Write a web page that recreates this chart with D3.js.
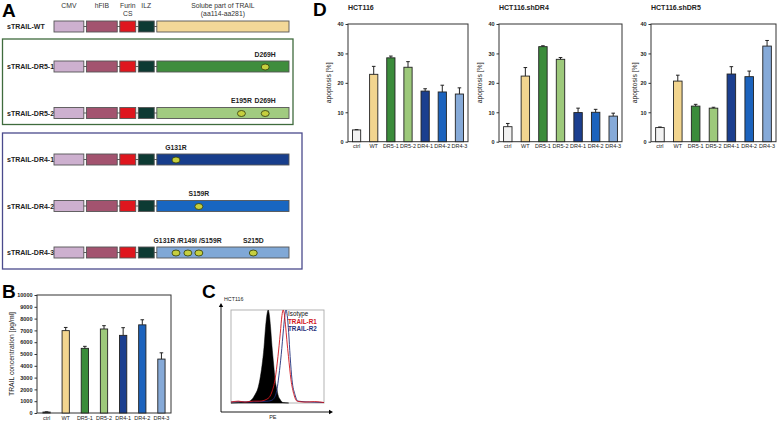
<!DOCTYPE html>
<html><head><meta charset="utf-8">
<script src="https://cdn.jsdelivr.net/npm/d3@7"></script>
<style>body{margin:0;background:#fff} svg{display:block} text{font-family:"Liberation Sans",Arial,sans-serif}</style>
</head><body><svg id="c" width="778" height="422"></svg>
<script>
// ---------- DATA ----------
// Panel A
const constructs = ["sTRAIL-WT","sTRAIL-DR5-1","sTRAIL-DR5-2","sTRAIL-DR4-1","sTRAIL-DR4-2","sTRAIL-DR4-3"];
const constructColors = ["#f3d898","#3f8d3d","#a1cb80","#183e8c","#1866c1","#80a8d6"];
const domainNames = [["CMV"],["hFIB"],["Furin","CS"],["ILZ"],["Solube part of TRAIL","(aa114-aa281)"]];
const domainLengths = [30,31,16,16,133];
const domainColors = ["#cdb0cf","#a3536f","#df161e","#0d3a33",null];
const mutationSites = [[],[269],[195,269],[131],[159],[131,149,159,215]];
const mutationLabels = [[],[["D269H",[269]]],[["E195R",[195]],["D269H",[269]]],[["G131R",[131]]],[["S159R",[159]]],[["G131R /R149I /S159R",[131,149,159]],["S215D",[215]]]];
const constructGroups = [{name:"DR5", rows:[1,2], color:"#3f6b3d"},{name:"DR4", rows:[3,4,5], color:"#4a4a8c"}];

// Panel B
const bCategories = ["ctrl","WT","DR5-1","DR5-2","DR4-1","DR4-2","DR4-3"];
const barColors = ["#f2f2f2","#f2d58f","#3b8c3b","#9dc97b","#1b3f8f","#1c63bd","#86aad8"];
const trailConc = [80,6980,5480,7120,6580,7470,4570];
const trailConcErr = [20,270,170,280,650,430,530];
const trailTicks = [0,1000,2000,3000,4000,5000,6000,7000,8000,9000,10000];

// Panel C (flow histogram, PE channel vs. % of max)
const isotypeX = [0,8,17,22.6,25.8,29,31,33.3,35.5,37.2,38.8,40,41.2,42.5,44,46,47.3,49.5,50.5,52.7,56,62];
const isotypeY = [0,0.5,1,4,9,16,25,40,60,82,96,100,95,82,62,40,26,14,9,4,0.5,0];
const r1X = [0,8,15,24,31,40,44,47.3,50.5,53,54.8,56,57.3,58.6,60,61.8,64.5,67.7,71,79.6,90,100];
const r1Y = [1,2,1,2,2,5,12,25,50,75,94,100,96,84,68,50,25,9,2,1,1.5,0.5];
const r2X = [0,10,20,31,40,44,48.4,51.6,54,56.5,58,59.2,60.5,62,63.6,65.6,68.8,72,85,100];
const r2Y = [1,1.5,1,1.5,2,3,10,30,52,80,95,100,94,76,50,25,9,2,1,0.5];
const histLegend = ["Isotype","TRAIL-R1","TRAIL-R2"];
const histColors = ["#111","#d2141c","#1f2f7a"];

// Panel D
const apopTitles = ["HCT116","HCT116.shDR4","HCT116.shDR5"];
const apopHCT116 = [4.0,22.9,28.5,25.3,17.2,16.9,16.2];
const apopHCT116Err = [0.1,2.7,0.6,1.9,0.8,2.3,2.1];
const apopShDR4 = [5.1,22.3,32.3,28.0,9.9,10.0,8.7];
const apopShDR4Err = [1.1,2.9,0.3,0.6,1.5,1.0,1.0];
const apopShDR5 = [4.8,20.6,12.1,11.4,23.0,22.1,32.5];
const apopShDR5Err = [0.2,2.0,0.6,0.3,2.5,1.9,1.9];
const apopTicks = [0,10,20,30,40];

// ---------- DRAW ----------
const svg = d3.select("#c");
const F = '"Liberation Sans",Arial,sans-serif';

function panelLetter(t,x,y){
  svg.append("text").attr("x",x).attr("y",y).attr("font-size",19).attr("font-weight","bold").text(t);
}

// ===== Panel A =====
panelLetter("A",2,17);
const gA = svg.append("g");
const cum = d3.cumsum(domainLengths);
const starts = domainLengths.map((d,i)=>cum[i]-d);
const gap = 2.6;
const xA = d3.scaleLinear().domain([0, cum[cum.length-1]]).range([54, 289 - gap*(domainLengths.length-1)]);
const dx0 = i => xA(starts[i]) + gap*i;
const dx1 = i => xA(cum[i]) + gap*i;
const yRow = d3.scaleLinear().domain([0,1,5]).range([26.5,66.5,252.5]);
const boxH = 11;
const traIdx = domainLengths.length-1;
const aaScale = d3.scaleLinear().domain([114,131,149,159,195,215,269,281]).range([0,.145,.235,.318,.64,.73,.82,1]);
const xAA = aa => dx0(traIdx) + aaScale(aa)*(dx1(traIdx)-dx0(traIdx));

// headers
domainNames.forEach((lines,i)=>{
  const cx = (dx0(i)+dx1(i))/2;
  lines.forEach((l,j)=>{
    gA.append("text").attr("x",cx).attr("y",8+j*7.5).attr("text-anchor","middle")
      .attr("font-size",6.8).attr("fill","#333").text(l);
  });
});
// group frames
constructGroups.forEach(g=>{
  const y0 = yRow(g.rows[0]) - (g.name==="DR5"?27.5:26.5);
  const y1 = yRow(g.rows[g.rows.length-1]) + (g.name==="DR5"?11.5:16.5);
  gA.append("rect").attr("x",2.5).attr("y",y0).attr("width",g.name==="DR5"?290.5:299.5).attr("height",y1-y0)
    .attr("fill","none").attr("stroke",g.color).attr("stroke-width",1.3);
});
constructs.forEach((c,r)=>{
  const cy = yRow(r);
  gA.append("text").attr("x",7).attr("y",cy+2.5).attr("font-size",7).attr("font-weight","bold").attr("fill","#222").text(c);
  gA.append("line").attr("x1",dx0(0)).attr("x2",dx1(traIdx)).attr("y1",cy).attr("y2",cy).attr("stroke","#333").attr("stroke-width",0.8);
  domainLengths.forEach((d,i)=>{
    gA.append("rect").attr("x",dx0(i)).attr("y",cy-boxH/2).attr("width",dx1(i)-dx0(i)).attr("height",boxH)
      .attr("fill",domainColors[i]||constructColors[r]).attr("stroke","#555").attr("stroke-width",0.9);
  });
  mutationSites[r].forEach(aa=>{
    gA.append("ellipse").attr("cx",xAA(aa)).attr("cy",cy+0.5).attr("rx",4).attr("ry",3)
      .attr("fill","#c6cf3e").attr("stroke","#3b4712").attr("stroke-width",0.9);
  });
  mutationLabels[r].forEach(([t,sites])=>{
    gA.append("text").attr("x",d3.mean(sites,xAA)).attr("y",cy-10).attr("text-anchor","middle")
      .attr("font-size",6.8).attr("font-weight","bold").attr("fill","#222").text(t);
  });
});

// ===== generic bar chart =====
function barChart(o){
  const g = svg.append("g");
  const x = d3.scaleBand().domain(o.cats).range([o.x0,o.x1]).paddingInner(o.pad).paddingOuter(o.pad/2);
  const y = d3.scaleLinear().domain([0,o.ymax]).range([o.y1,o.y0]);
  g.append("g").attr("transform",`translate(${o.x0},0)`)
    .call(d3.axisLeft(y).tickValues(o.ticks).tickSize(2.5).tickPadding(2).tickFormat(d3.format("d")))
    .call(a=>{a.select(".domain").remove(); a.selectAll("line").attr("stroke","#333");
      a.selectAll("text").attr("font-size",o.tickFont).attr("font-weight","bold").attr("font-family",F).attr("fill","#222");});
  g.append("rect").attr("x",o.x0).attr("y",o.y0).attr("width",o.x1-o.x0).attr("height",o.y1-o.y0)
    .attr("fill","none").attr("stroke","#333").attr("stroke-width",1);
  g.selectAll(".bar").data(o.vals).join("rect")
    .attr("x",(d,i)=>x(o.cats[i])).attr("y",d=>y(d)).attr("width",x.bandwidth()).attr("height",d=>y(0)-y(d))
    .attr("fill",(d,i)=>barColors[i]).attr("stroke","#222").attr("stroke-width",0.9);
  g.selectAll(".err").data(o.vals).join("path")
    .attr("d",(d,i)=>{const cx=x(o.cats[i])+x.bandwidth()/2, t=y(d+o.errs[i]);
      return `M${cx},${y(d)}V${t}M${cx-1.8},${t}H${cx+1.8}`;})
    .attr("stroke","#222").attr("stroke-width",1).attr("fill","none");
  g.selectAll(".xl").data(o.cats).join("text")
    .attr("x",d=>x(d)+x.bandwidth()/2).attr("y",o.y1+6.5).attr("text-anchor","middle")
    .attr("font-size",o.xFont).attr("fill","#222").text(d=>d);
  g.append("text").attr("transform",`translate(${o.titleX},${(o.y0+o.y1)/2}) rotate(-90)`).attr("text-anchor","middle")
    .attr("font-size",o.yFont).attr("fill","#222").text(o.ylabel);
  if(o.title) g.append("text").attr("x",o.x0).attr("y",o.y0-14).attr("font-size",7).attr("font-weight","bold").attr("fill","#222").text(o.title);
}

// ===== Panel B =====
panelLetter("B",2,298);
barChart({cats:bCategories, vals:trailConc, errs:trailConcErr, x0:37, x1:171, y0:295, y1:413, ymax:10000,
  ticks:trailTicks, pad:0.62, tickFont:5.5, xFont:5.5, yFont:6.8, ylabel:"TRAIL concentration [pg/ml]", titleX:14});

// ===== Panel C =====
panelLetter("C",202,298);
const gC = svg.append("g");
const hx = d3.scaleLinear().domain([0,100]).range([231,324]);
const hy = d3.scaleLinear().domain([0,100]).range([403,310]);
gC.append("rect").attr("x",231).attr("y",310).attr("width",93).attr("height",93).attr("fill","none").attr("stroke","#aaa").attr("stroke-width",0.9);
const area = d3.area().x((d,i)=>hx(isotypeX[i])).y0(hy(0)).y1(d=>hy(d)).curve(d3.curveMonotoneX);
gC.append("path").attr("d",area(isotypeY)).attr("fill","#000").attr("stroke","#000").attr("stroke-width",0.5);
const lineR1 = d3.line().x((d,i)=>hx(r1X[i])).y(d=>hy(d)).curve(d3.curveMonotoneX);
const lineR2 = d3.line().x((d,i)=>hx(r2X[i])).y(d=>hy(d)).curve(d3.curveMonotoneX);
gC.append("path").attr("d",lineR2(r2Y)).attr("fill","none").attr("stroke",histColors[2]).attr("stroke-width",0.9);
gC.append("path").attr("d",lineR1(r1Y)).attr("fill","none").attr("stroke",histColors[1]).attr("stroke-width",0.9);
gC.append("path").attr("d","M221,412H331M221,412V305").attr("stroke","#000").attr("stroke-width",0.9).attr("fill","none");
gC.append("path").attr("d","M333,412l-4,-2.2v4.4z M221,303l-2.2,4h4.4z").attr("fill","#000");
gC.append("text").attr("x",224).attr("y",301).attr("font-size",5.3).attr("fill","#222").text("HCT116");
gC.append("text").attr("x",hx(45)).attr("y",419).attr("text-anchor","middle").attr("font-size",5.5).attr("fill","#222").text("PE");
histLegend.forEach((t,i)=>{
  gC.append("text").attr("x",288).attr("y",316+i*7.5).attr("font-size",6.3).attr("font-weight",i?"bold":"normal")
    .attr("fill",histColors[i]).text(t);
});

// ===== Panel D =====
panelLetter("D",313,16);
const apopVals = [apopHCT116, apopShDR4, apopShDR5];
const apopErrs = [apopHCT116Err, apopShDR4Err, apopShDR5Err];
const dFrames = [[348,468,331],[499,622,482],[651,776,637]];
apopTitles.forEach((t,k)=>{
  barChart({cats:bCategories, vals:apopVals[k], errs:apopErrs[k], x0:dFrames[k][0], x1:dFrames[k][1], y0:24, y1:141.7, ymax:40,
    ticks:apopTicks, pad:0.52, tickFont:5.5, xFont:5.5, yFont:6.8, ylabel:"apoptosis [%]", titleX:dFrames[k][2], title:t});
});
</script></body></html>
